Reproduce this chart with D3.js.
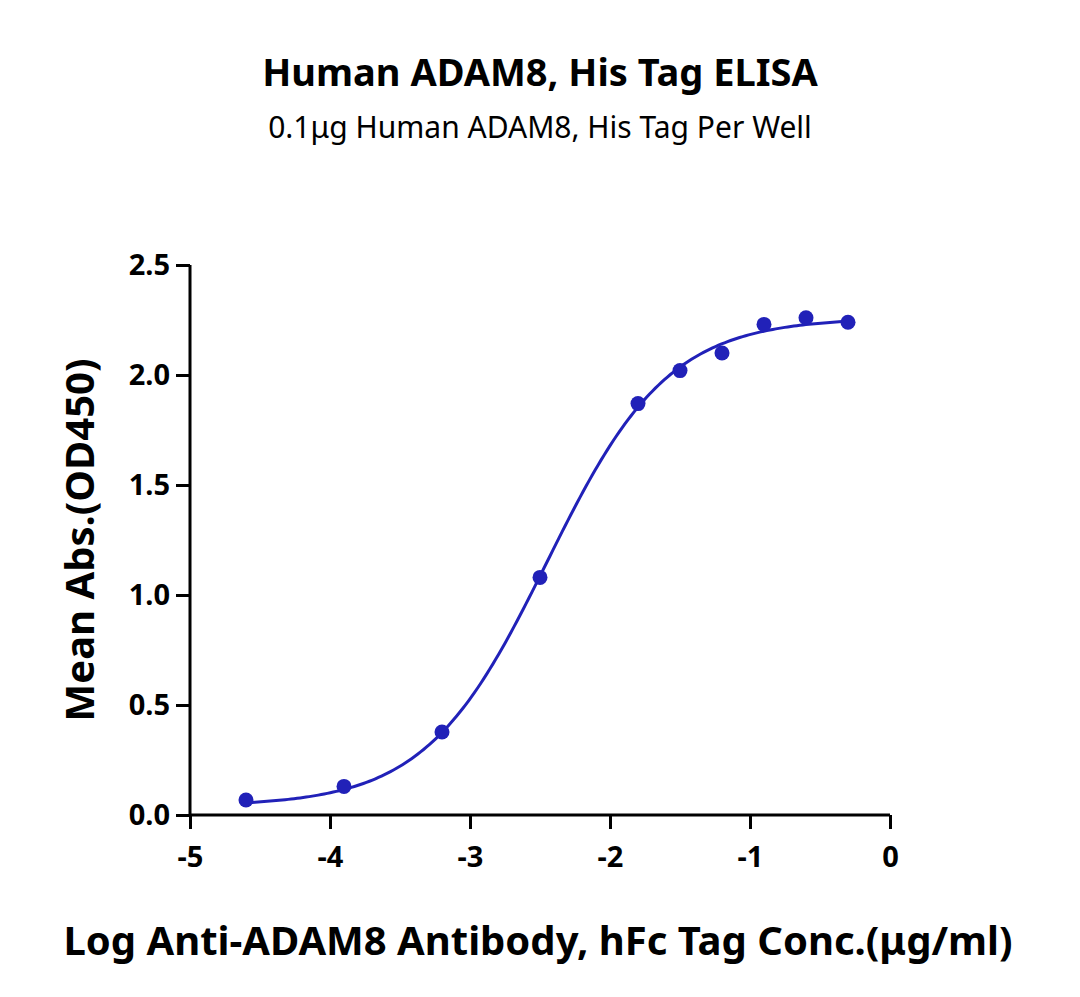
<!DOCTYPE html>
<html><head><meta charset="utf-8">
<script src="https://cdn.jsdelivr.net/npm/d3@7"></script>
<style>body{margin:0;background:#fff}</style></head>
<body><svg width="1080" height="997"></svg>
<script>
// measured points
var logConc = [-4.6, -3.9, -3.2, -2.5, -1.8, -1.5, -1.2, -0.9, -0.6, -0.3];
var meanAbs = [0.068, 0.13, 0.377, 1.08, 1.87, 2.02, 2.1, 2.23, 2.26, 2.24];
// 4PL fit parameters
var fitBottom = 0.04, fitTop = 2.26, fitLogEC50 = -2.45, fitHill = 1.0;
var xTicks = [-5, -4, -3, -2, -1, 0];
var yTicks = [0, 0.5, 1, 1.5, 2, 2.5];

var svg = d3.select('svg');
var font = '"Noto Sans", sans-serif';
var x = d3.scaleLinear().domain([-5, 0]).range([190, 890]);
var y = d3.scaleLinear().domain([0, 2.5]).range([815, 265]);
var color = '#2121b8';

function fit(v){
    return fitBottom + (fitTop - fitBottom) / (1 + Math.pow(10, (fitLogEC50 - v) * fitHill));
}

svg.append('text').attr('x', 540).attr('y', 86).attr('text-anchor', 'middle')
    .style('font-family', font).style('font-weight', 'bold').style('font-size', '38px')
    .text('Human ADAM8, His Tag ELISA');
svg.append('text').attr('x', 540).attr('y', 138).attr('text-anchor', 'middle')
    .style('font-family', font).style('font-size', '30px')
    .text('0.1μg Human ADAM8, His Tag Per Well');

var xAxis = svg.append('g').attr('transform', 'translate(0,815)')
    .call(d3.axisBottom(x).tickValues(xTicks).tickSize(14).tickFormat(function(d){ return String(d); }));
var yAxis = svg.append('g').attr('transform', 'translate(190,0)')
    .call(d3.axisLeft(y).tickValues(yTicks).tickSize(14).tickFormat(d3.format('.1f')));
[xAxis, yAxis].forEach(function(a){
    a.select('.domain').attr('stroke', '#000').attr('stroke-width', 3);
    a.selectAll('.tick line').attr('stroke', '#000').attr('stroke-width', 3);
    a.selectAll('text').style('font-family', font).style('font-weight', 'bold')
        .style('font-size', '29px').attr('fill', '#000');
});
xAxis.select('.domain').attr('d', 'M190,0H890');
yAxis.select('.domain').attr('d', 'M0,815V265');
xAxis.selectAll('text').attr('dy', '1.2em');
yAxis.selectAll('text').attr('x', -20);

svg.append('text').attr('x', 538).attr('y', 955).attr('text-anchor', 'middle')
    .style('font-family', font).style('font-weight', 'bold').style('font-size', '40px')
    .text('Log Anti-ADAM8 Antibody, hFc Tag Conc.(μg/ml)');
svg.append('text').attr('transform', 'translate(94,540) rotate(-90)').attr('text-anchor', 'middle')
    .style('font-family', font).style('font-weight', 'bold').style('font-size', '40px')
    .text('Mean Abs.(OD450)');

var curveX = d3.range(0, 201).map(function(i){ return -4.6 + i * 4.3 / 200; });
svg.append('path').datum(curveX)
    .attr('d', d3.line().x(function(d){ return x(d); }).y(function(d){ return y(fit(d)); }))
    .attr('fill', 'none').attr('stroke', color).attr('stroke-width', 3);

svg.selectAll('circle.pt').data(logConc).join('circle')
    .attr('cx', function(d){ return x(d); })
    .attr('cy', function(d, i){ return y(meanAbs[i]); })
    .attr('r', 7.5).style('fill', color);
</script></body></html>
